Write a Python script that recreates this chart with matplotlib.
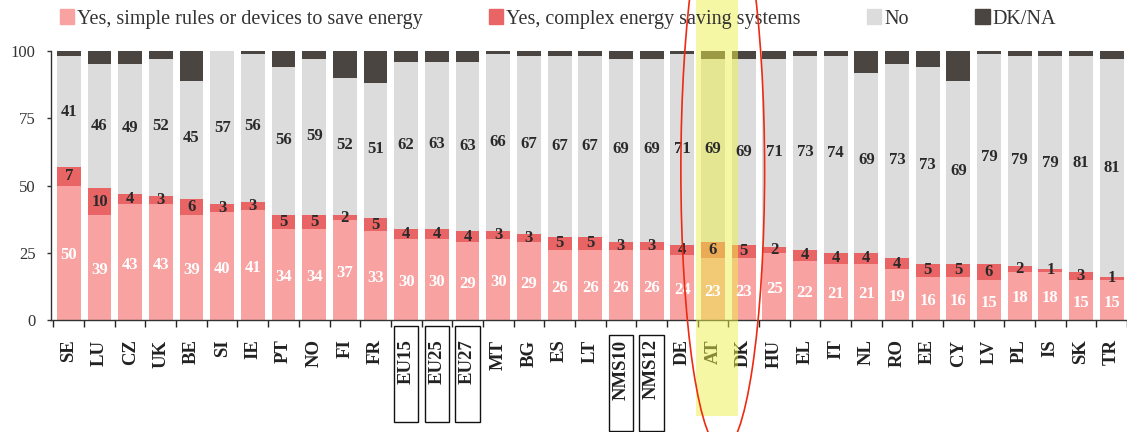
import numpy as np
import matplotlib.pyplot as plt
from matplotlib.patches import Rectangle, Ellipse
from matplotlib.transforms import blended_transform_factory

countries = ['SE', 'LU', 'CZ', 'UK', 'BE', 'SI', 'IE', 'PT', 'NO', 'FI', 'FR',
             'EU15', 'EU25', 'EU27', 'MT', 'BG', 'ES', 'LT', 'NMS10', 'NMS12',
             'DE', 'AT', 'DK', 'HU', 'EL', 'IT', 'NL', 'RO', 'EE', 'CY', 'LV',
             'PL', 'IS', 'SK', 'TR']
simple = [50, 39, 43, 43, 39, 40, 41, 34, 34, 37, 33, 30, 30, 29, 30, 29, 26, 26,
          26, 26, 24, 23, 23, 25, 22, 21, 21, 19, 16, 16, 15, 18, 18, 15, 15]
complex_ = [7, 10, 4, 3, 6, 3, 3, 5, 5, 2, 5, 4, 4, 4, 3, 3, 5, 5, 3, 3, 4, 6, 5,
            2, 4, 4, 4, 4, 5, 5, 6, 2, 1, 3, 1]
no = [41, 46, 49, 52, 45, 57, 56, 56, 59, 52, 51, 62, 63, 63, 66, 67, 67, 67, 69,
      69, 71, 69, 69, 71, 73, 74, 69, 73, 73, 69, 79, 79, 79, 81, 81]
dkna = [2, 5, 5, 3, 11, 0, 1, 6, 3, 10, 12, 4, 4, 4, 1, 2, 2, 2, 3, 3, 1, 3, 3,
        3, 2, 2, 8, 5, 6, 11, 1, 2, 2, 2, 3]
boxed = ['EU15', 'EU25', 'EU27', 'NMS10', 'NMS12']
highlight = 'AT'

legend_labels = ['Yes, simple rules or devices to save energy',
                 'Yes, complex energy saving systems', 'No', 'DK/NA']
colors = ['#f8a2a2', '#e96464', '#dcdcdc', '#4a4540']

serif = 'Liberation Serif'
plt.rcParams['font.family'] = serif

fig = plt.figure(figsize=(11.27, 4.32), dpi=100)
ax = fig.add_axes([51 / 1127, 112 / 432, 1 - 51 / 1127, 269 / 432])

x = np.arange(len(countries))
simple = np.array(simple)
complex_ = np.array(complex_)
no = np.array(no)
dkna = np.array(dkna)
w = 0.78

ax.bar(x, simple, w, color=colors[0], zorder=2)
ax.bar(x, complex_, w, bottom=simple, color=colors[1], zorder=2)
ax.bar(x, no, w, bottom=simple + complex_, color=colors[2], zorder=2)
ax.bar(x, dkna, w, bottom=100 - dkna, color=colors[3], zorder=3)

lab = dict(ha='center', va='center', fontsize=12, fontweight='bold', zorder=5)
for i in range(len(countries)):
    ax.text(x[i], simple[i] / 2 - 1, str(simple[i]), color='white', **lab)
    ax.text(x[i], simple[i] + complex_[i] / 2, str(complex_[i]), color='#2a2a2a', **lab)
    ax.text(x[i], simple[i] + complex_[i] + no[i] / 2, str(no[i]), color='#2a2a2a', **lab)

ax.set_xlim(-0.58, 34.35)
ax.set_ylim(0, 100)
ax.set_yticks([0, 25, 50, 75, 100])
ax.tick_params(axis='y', length=3, width=1, pad=8, labelsize=12, colors='#333333')
ax.set_xticks(x)
ax.set_xticklabels(countries, rotation=90, fontsize=13.5, fontweight='bold')
ax.tick_params(axis='x', which='major', length=0, pad=14, colors='#222222')
ax.set_xticks(np.arange(-0.5, len(countries), 1), minor=True)
ax.tick_params(axis='x', which='minor', length=5, width=1, color='#222222')
for s in ['top', 'right']:
    ax.spines[s].set_visible(False)
for s in ['left', 'bottom']:
    ax.spines[s].set_color('#333333')
    ax.spines[s].set_linewidth(1)

# boxes round the aggregate labels
bt = blended_transform_factory(ax.transData, ax.transAxes)
for c in boxed:
    i = countries.index(c)
    top = -6 / 269 if c.startswith('EU') else -15 / 269
    ax.add_patch(Rectangle((i - 0.4, top - 96 / 269), 0.8, 96 / 269, transform=bt,
                           fill=False, ec='#111111', lw=1, clip_on=False))

# highlighter band (under the numbers) and hand-drawn ellipse
ft = blended_transform_factory(ax.transData, fig.transFigure)
h = countries.index(highlight)
ax.add_patch(Rectangle((h - 0.55, 16 / 432), 1.36, 1 - 16 / 432, transform=ft,
                       fc='#eef04a', ec='none', alpha=0.5, zorder=4, clip_on=False))
fig.patches.append(Ellipse((h + 0.32, 262 / 432), 2.73, 560 / 432, transform=ft,
                           fill=False, ec='#ee2a10', lw=1.2, zorder=11))

handles = [Rectangle((0, 0), 1, 1, color=c) for c in colors]
fig.legend(handles, legend_labels, loc='center left',
           bbox_to_anchor=(60 / 1127, 1 - 19 / 432), ncol=4, frameon=False,
           handlelength=0.7, handleheight=0.7, handletextpad=0.15,
           columnspacing=3.3, borderpad=0, borderaxespad=0,
           prop={'family': serif, 'size': 14.5}, labelcolor='#333333')

fig.savefig('out.png', dpi=100)
